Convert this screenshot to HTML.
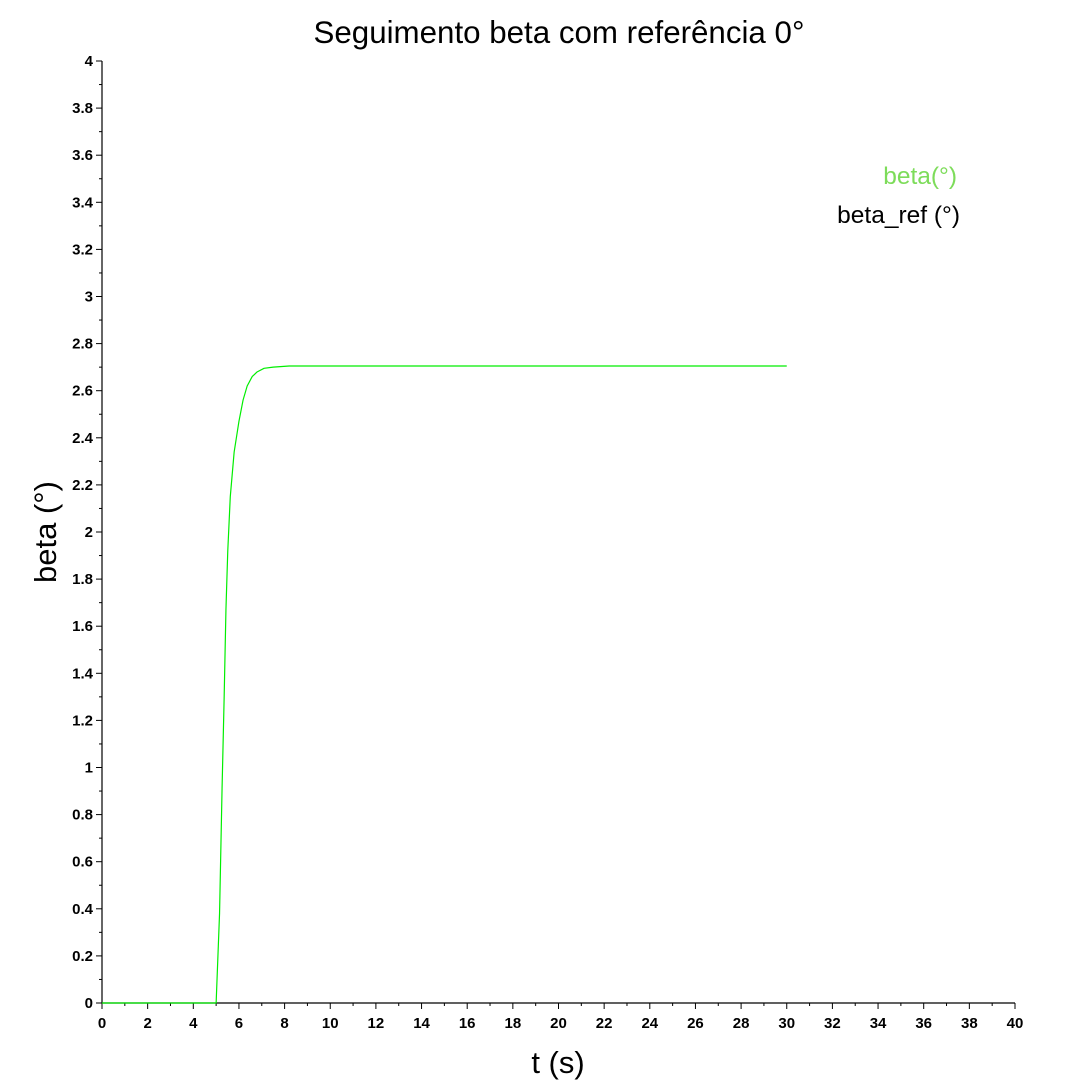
<!DOCTYPE html>
<html><head><meta charset="utf-8"><style>
html,body{margin:0;padding:0;background:#fff;}
svg text{font-family:"Liberation Sans",sans-serif;}
</style></head><body>
<svg id="chart" width="1080" height="1080" viewBox="0 0 1080 1080" xmlns="http://www.w3.org/2000/svg">
<rect width="1080" height="1080" fill="#fff"/>
<text x="559" y="43" font-size="31.3" text-anchor="middle" fill="#000">Seguimento beta com referência 0°</text>
<text x="558" y="1073" font-size="31" text-anchor="middle" fill="#000">t (s)</text>
<text transform="translate(56,532) rotate(-90)" font-size="31" text-anchor="middle" fill="#000">beta (°)</text>
<g id="axes"></g>
<g id="series"></g>
<text x="957" y="184" font-size="24.5" text-anchor="end" fill="#7ddc5a">beta(°)</text>
<text x="960" y="223" font-size="24.5" text-anchor="end" fill="#000">beta_ref (°)</text>
</svg>
<script>
const tValues = [0, 4.9, 5.0, 5.15, 5.26, 5.35, 5.43, 5.51, 5.62, 5.79, 6.0, 6.18, 6.36, 6.58, 6.8, 7.1, 7.5, 8.2, 10, 30];
const betaValues = [0, 0, 0, 0.38, 0.91, 1.29, 1.67, 1.92, 2.15, 2.34, 2.47, 2.56, 2.62, 2.66, 2.68, 2.695, 2.70, 2.705, 2.705, 2.705];
const xTicks = [0,2,4,6,8,10,12,14,16,18,20,22,24,26,28,30,32,34,36,38,40];
const yTicks = [0,0.2,0.4,0.6,0.8,1,1.2,1.4,1.6,1.8,2,2.2,2.4,2.6,2.8,3,3.2,3.4,3.6,3.8,4];
const X0=102, X1=1015, Y0=1003, Y1=61;
const xs = v => X0 + (v-0)/(40-0)*(X1-X0);
const ys = v => Y0 - (v-0)/(4-0)*(Y0-Y1);
const NS="http://www.w3.org/2000/svg";
const axes=document.getElementById('axes');
function mk(tag,attrs,parent){const e=document.createElementNS(NS,tag);for(const k in attrs)e.setAttribute(k,attrs[k]);parent.appendChild(e);return e;}
let l=mk('line',{x1:X0,y1:Y0,x2:X1,y2:Y0,stroke:'#000','stroke-width':1.2},axes);


l=mk('line',{x1:X0,y1:Y0,x2:X0,y2:Y1,stroke:'#000','stroke-width':1.2},axes);


xTicks.forEach((v,i)=>{
  const x=xs(v);
  const t=mk('line',{x1:x,y1:Y0,x2:x,y2:Y0+6,stroke:'#000'},axes);
  
  
  if(i<xTicks.length-1){const m=mk('line',{x1:xs(v+1),y1:Y0,x2:xs(v+1),y2:Y0+3,stroke:'#000'},axes);
  
  }
  const tx=mk('text',{x:x,y:Y0+25,'font-size':15,'font-weight':'bold','text-anchor':'middle'},axes);
  tx.textContent=String(v);
  
  
});
yTicks.forEach((v,i)=>{
  const y=ys(v);
  const t=mk('line',{x1:X0,y1:y,x2:X0-6,y2:y,stroke:'#000'},axes);
  
  
  if(i<yTicks.length-1){const m=mk('line',{x1:X0,y1:ys(v+0.1),x2:X0-3,y2:ys(v+0.1),stroke:'#000'},axes);
  
  }
  const tx=mk('text',{x:X0-9,y:y+5,'font-size':15,'font-weight':'bold','text-anchor':'end'},axes);
  tx.textContent=String(v);
  
  
});
const d=tValues.map((t,i)=>(i?'L':'M')+xs(t).toFixed(2)+','+ys(betaValues[i]).toFixed(2)).join(' ');
const p=mk('path',{d:d,fill:'none',stroke:'#00ee00','stroke-width':1.2,'stroke-linejoin':'round'},document.getElementById('series'));


</script>
</body></html>
